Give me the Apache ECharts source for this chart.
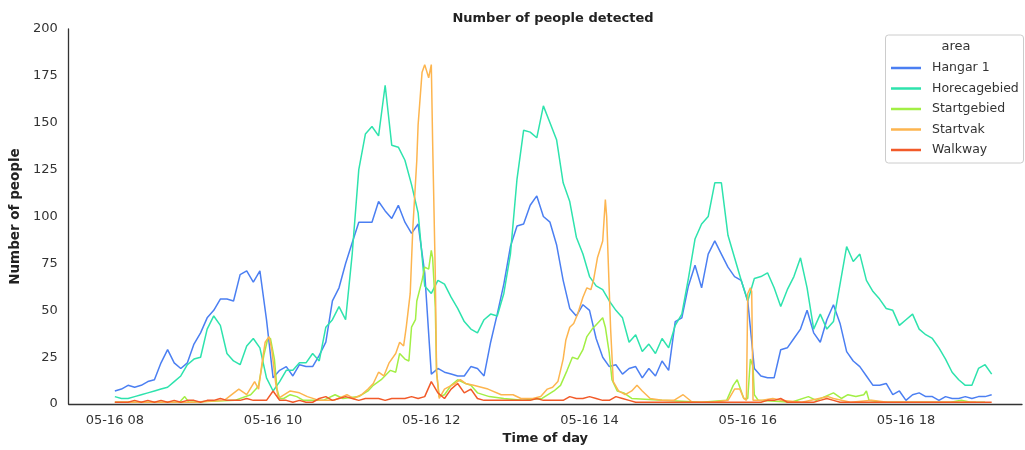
<!DOCTYPE html>
<html>
<head>
<meta charset="utf-8">
<script src="https://cdn.jsdelivr.net/npm/echarts@6/dist/echarts.min.js"></script>
<style>
html,body{margin:0;padding:0;background:#fff;}
#chart{width:1025px;height:450px;}
</style>
</head>
<body>
<div id="chart"></div>
<script>
// shared 5-minute sampling grid start/end (minutes after midnight) for Hangar 1, Horecagebied, Walkway
const gridStart = 480, gridStep = 5, gridCount = 134;

const hangar1 = [7,8,10,9,10,12,13,22,29,22,
 19,22,32,38,46,50,56,56,55,69,
 71,65,71,45,14,18,20,15,21,20,
 20,26,33,55,62,75,86,97,97,97,
 108,103,99,106,97,91,96,70,16,19,
 17,16,15,15,20,19,15,33,48,64,
 84,95,96,106,111,100,97,85,66,51,
 47,53,50,35,25,20,21,16,19,20,
 14,19,15,23,18,44,46,63,74,62,
 80,87,80,73,68,66,55,19,15,14,
 14,29,30,35,40,50,38,33,45,53,
 43,28,23,20,15,10,10,11,5,7,
 2,5,6,4,4,2,4,3,3,4,
 3,4,4,5];

const horecagebied = [4,3,3,4,5,6,7,8,9,12,
 15,21,24,25,40,47,42,27,23,21,
 31,35,30,14,7,12,18,18,22,22,
 27,23,41,45,52,45,80,125,144,148,
 143,170,138,137,130,117,102,63,59,66,
 64,57,51,44,40,38,45,48,47,59,
 80,120,146,145,142,159,150,141,118,108,
 89,80,68,63,61,55,50,46,33,37,
 28,32,27,35,30,42,48,67,88,96,
 100,118,118,90,78,66,55,67,68,70,
 62,52,61,68,78,62,40,48,40,44,
 64,84,76,80,66,60,56,51,50,42,
 45,48,40,37,35,30,24,17,13,10,
 10,19,21,16];

const walkway = [1,1,1,2,1,2,1,2,1,2,
 1,2,2,1,2,2,3,2,2,2,
 3,2,2,2,7,2,2,1,2,1,
 1,3,4,2,3,4,3,2,3,3,
 3,2,3,3,3,4,3,4,12,6,
 3,8,11,6,8,3,2,2,2,2,
 2,2,2,2,3,2,2,2,2,4,
 3,3,4,3,2,2,4,3,2,1,
 1,1,1,1,1,1,1,1,1,1,
 1,1,1,1,1,1,1,1,1,2,
 2,3,1,1,1,1,1,2,3,2,
 1,1,1,1,1,1,1,1,1,1,
 1,1,1,1,1,1,1,1,1,1,
 1,1,1,1];

const startvakTimes = ["08:00","08:30","09:00","09:23","09:34","09:40","09:46","09:49","09:52","09:54","09:57","09:59","10:02","10:04","10:13","10:20","10:26","10:35","10:46","10:56","11:01","11:07","11:12","11:16","11:20","11:24","11:28","11:33","11:36","11:39","11:41","11:44","11:46","11:49","11:50","11:53","11:55","11:58","12:00","12:01","12:03","12:04","12:06","12:10","12:18","12:22","12:26","12:32","12:43","12:53","13:02","13:08","13:17","13:23","13:28","13:32","13:36","13:40","13:42","13:45","13:48","13:51","13:55","13:58","14:01","14:03","14:06","14:10","14:12","14:13","14:16","14:18","14:22","14:27","14:32","14:36","14:40","14:46","14:55","15:04","15:11","15:18","15:33","15:45","15:50","15:54","15:57","15:59","16:00","16:02","16:03","16:04","16:11","16:19","16:25","16:41","17:01","17:05","17:18","17:34","17:46","18:11","18:34","18:53"];
const startvak = [1,1,1,2,8,5,12,8,24,33,36,29,11,3,7,6,4,2,2,5,3,5,8,11,17,15,22,27,33,31,41,59,94,130,149,177,181,174,181,140,70,17,3,8,11,13,11,10,8,5,5,3,3,4,8,9,12,24,34,41,43,48,57,62,61,66,78,87,109,100,40,12,7,5,7,10,7,3,2,2,5,1,1,2,8,8,3,2,59,62,60,2,2,3,2,1,4,3,1,2,1,1,1,1];

const startgebiedTimes = ["08:00","08:30","08:49","08:53","08:56","09:31","09:43","09:47","09:49","09:53","09:56","09:58","10:01","10:03","10:05","10:08","10:13","10:18","10:23","10:38","10:47","10:53","11:05","11:12","11:16","11:22","11:29","11:33","11:36","11:40","11:43","11:45","11:48","11:49","11:53","11:55","11:58","12:00","12:01","12:03","12:04","12:06","12:10","12:15","12:20","12:26","12:30","12:35","12:44","12:55","13:09","13:24","13:33","13:38","13:43","13:47","13:51","13:55","13:58","14:02","14:06","14:10","14:12","14:15","14:17","14:21","14:26","14:32","14:55","15:25","15:44","15:49","15:52","15:54","15:57","16:00","16:02","16:04","16:05","16:08","16:33","16:46","16:52","17:05","17:11","17:16","17:22","17:28","17:30","17:32","17:41","18:34","18:42","18:49","19:00"];
const startgebied = [1,1,1,4,1,2,5,8,10,26,35,35,24,8,3,3,5,4,2,2,5,3,4,7,10,13,18,17,27,24,23,41,45,55,66,73,72,82,78,52,17,4,5,10,13,11,10,6,4,3,2,3,7,10,18,25,24,29,36,40,43,46,41,27,13,7,6,3,2,1,2,10,13,9,3,3,24,20,5,2,1,4,2,6,3,5,4,5,7,2,1,1,2,1,1];

const seriesNames = ["Hangar 1","Horecagebied","Startgebied","Startvak","Walkway"];
const seriesColors = ["#4b7ff2","#2ee3ad","#a2ef45","#fdb54f","#f25a29"];
const xTickValues = [480,600,720,840,960,1080];
const yTickStep = 25;

const font = "DejaVu Sans";
function toMin(s){ const p = s.split(":"); return (+p[0])*60 + (+p[1]); }
const gridTimes = [];
for (let i = 0; i < gridCount; i++) gridTimes.push(gridStart + i*gridStep);
function pairsGrid(vals){ return vals.map((v,i)=>[gridTimes[i], v]); }
function pairsTimes(ts, vals){ return vals.map((v,i)=>[toMin(ts[i]), v]); }

const dataBy = {
  "Hangar 1": pairsGrid(hangar1),
  "Horecagebied": pairsGrid(horecagebied),
  "Startgebied": pairsTimes(startgebiedTimes, startgebied),
  "Startvak": pairsTimes(startvakTimes, startvak),
  "Walkway": pairsGrid(walkway)
};

const chart = echarts.init(document.getElementById('chart'), null, {renderer:'canvas'});
chart.setOption({
  animation: false,
  backgroundColor: '#ffffff',
  title: {
    text: 'Number of people detected',
    left: 548, top: 7, textAlign: 'center',
    textStyle: {fontFamily: font, fontWeight: 'bold', fontSize: 13, color: '#222'}
  },
  grid: {left: 63.5, right: 3, top: 29, bottom: 43.5},
  xAxis: {
    type: 'value', min: 445, max: 1168,
    name: 'Time of day', nameLocation: 'middle', nameGap: 27,
    nameTextStyle: {fontFamily: font, fontWeight: 'bold', fontSize: 13, color: '#222'},
    axisLine: {show: true, lineStyle: {color: '#333', width: 1.3}},
    axisTick: {show: false},
    splitLine: {show: false},
    axisLabel: {
      customValues: xTickValues, margin: 10,
      fontFamily: font, fontSize: 13, color: '#333',
      formatter: v => '05-16 ' + String(Math.round(v/60)).padStart(2,'0')
    }
  },
  yAxis: {
    type: 'value', min: 0, max: 200, interval: yTickStep,
    name: 'Number of people', nameLocation: 'middle', nameGap: 37, nameRotate: 90,
    nameTextStyle: {fontFamily: font, fontWeight: 'bold', fontSize: 13.5, color: '#222'},
    axisLine: {show: true, lineStyle: {color: '#333', width: 1.3}},
    axisTick: {show: false},
    splitLine: {show: false},
    axisLabel: {margin: 11, fontFamily: font, fontSize: 13, color: '#333'}
  },
  legend: {
    orient: 'vertical', left: 886, top: 53, z: 10,
    data: seriesNames, icon: 'rect', itemWidth: 30, itemHeight: 2.5, itemGap: 0.5,
    textStyle: {fontFamily: font, fontSize: 12.5, color: '#333', lineHeight: 20, padding: [0,0,0,6]}
  },
  graphic: [
    {type: 'rect', z: 1, shape: {x: 885.5, y: 35, width: 138, height: 128, r: 3},
     style: {fill: '#fff', stroke: '#cccccc', lineWidth: 1}},
    {type: 'text', z: 2, x: 956, y: 47,
     style: {text: 'area', fontFamily: font, fontSize: 13, fill: '#333', align: 'center', verticalAlign: 'middle'}}
  ],
  series: seriesNames.map((n, i) => ({
    name: n, type: 'line', data: dataBy[n], showSymbol: false, symbol: 'none',
    color: seriesColors[i], lineStyle: {width: 1.5, color: seriesColors[i]}
  }))
});
</script>
</body>
</html>
